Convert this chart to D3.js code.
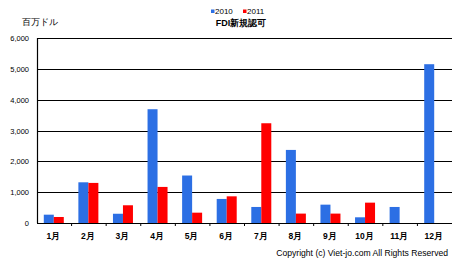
<!DOCTYPE html>
<html>
<head>
<meta charset="utf-8">
<script src="https://cdn.jsdelivr.net/npm/d3@7"></script>
<style>
  body { margin: 0; background: #fff; }
  text { font-family: "Liberation Sans", Arial, sans-serif; }
</style>
</head>
<body>
<svg id="chart"></svg>
<script>
// chart data
const months = ["1月", "2月", "3月", "4月", "5月", "6月", "7月", "8月", "9月", "10月", "11月", "12月"];
const seriesNames = ["2010", "2011"];
const values2010 = [270, 1320, 300, 3690, 1540, 780, 520, 2370, 595, 185, 520, 5150];
const values2011 = [195, 1300, 575, 1170, 335, 865, 3235, 305, 305, 660, null, null];
const yTicks = [0, 1000, 2000, 3000, 4000, 5000, 6000];
const colors = ["#2c6fe4", "#ff0000"];

const width = 460;
const height = 263;
const margin = { top: 38, right: 8, bottom: 40, left: 37 };
const innerW = width - margin.left - margin.right;
const innerH = height - margin.top - margin.bottom;

const svg = d3.select("#chart").attr("width", width).attr("height", height);
const g = svg.append("g").attr("transform", `translate(${margin.left},${margin.top})`);

const x = d3.scaleBand().domain(months).range([0, innerW]);
const xSub = d3.scaleBand().domain(seriesNames).range([0, 20]);
const y = d3.scaleLinear().domain([0, 6000]).range([innerH, 0]);

// grid lines
g.append("g")
  .selectAll("line")
  .data(yTicks.slice(1))
  .join("line")
  .attr("x1", 0).attr("x2", innerW)
  .attr("y1", d => Math.round(y(d)) + 0.5).attr("y2", d => Math.round(y(d)) + 0.5)
  .attr("stroke", "#000").attr("stroke-width", 1.1);

// y axis labels
g.append("g")
  .selectAll("text")
  .data(yTicks)
  .join("text")
  .attr("x", -8)
  .attr("y", d => y(d) + 3)
  .attr("text-anchor", "end")
  .attr("font-size", 7.5)
  .attr("fill", "#000")
  .text(d3.format(","));

// bars
const series = [values2010, values2011];
series.forEach((vals, si) => {
  g.append("g")
    .selectAll("rect")
    .data(vals.map((v, i) => ({ m: months[i], v })).filter(d => d.v != null))
    .join("rect")
    .attr("x", d => x(d.m) + x.bandwidth() / 2 - 10 + xSub(seriesNames[si]) - 0.5)
    .attr("y", d => y(d.v))
    .attr("width", xSub.bandwidth())
    .attr("height", d => innerH - y(d.v))
    .attr("fill", colors[si]);
});

// axes lines
g.append("line")
  .attr("x1", 0.5).attr("x2", 0.5).attr("y1", 0).attr("y2", innerH)
  .attr("stroke", "#000").attr("stroke-width", 1.2);
g.append("line")
  .attr("x1", 0).attr("x2", innerW).attr("y1", innerH + 0.5).attr("y2", innerH + 0.5)
  .attr("stroke", "#000").attr("stroke-width", 1.2);

// small ticks between categories
g.append("g")
  .selectAll("line")
  .data(months.slice(1))
  .join("line")
  .attr("x1", d => x(d)).attr("x2", d => x(d))
  .attr("y1", innerH).attr("y2", innerH + 3)
  .attr("stroke", "#000");

// x labels
g.append("g")
  .selectAll("text")
  .data(months)
  .join("text")
  .attr("x", d => x(d) + x.bandwidth() / 2 - 1)
  .attr("y", innerH + 16)
  .attr("text-anchor", "middle")
  .attr("font-size", 8.5)
  .attr("font-weight", "bold")
  .text(d => d);

// unit label
svg.append("text")
  .attr("x", 22).attr("y", 25)
  .attr("font-size", 9)
  .attr("font-family", "Noto Sans CJK JP")
  .text("百万ドル");

// legend
const legendPos = [211, 243];
seriesNames.forEach((s, i) => {
  svg.append("rect")
    .attr("x", legendPos[i]).attr("y", 9.5)
    .attr("width", 3.5).attr("height", 3.5)
    .attr("fill", colors[i]);
  svg.append("text")
    .attr("x", legendPos[i] + 4).attr("y", 13.5)
    .attr("font-size", 8)
    .text(s);
});

// title
svg.append("text")
  .attr("x", 241).attr("y", 26)
  .attr("text-anchor", "middle")
  .attr("font-size", 9)
  .attr("font-weight", "bold")
  .attr("font-family", "Noto Sans CJK JP")
  .text("FDI新規認可");

// copyright
svg.append("text")
  .attr("x", 448).attr("y", 256)
  .attr("text-anchor", "end")
  .attr("font-size", 8.6)
  .text("Copyright (c) Viet-jo.com  All Rights Reserved");
</script>
</body>
</html>
